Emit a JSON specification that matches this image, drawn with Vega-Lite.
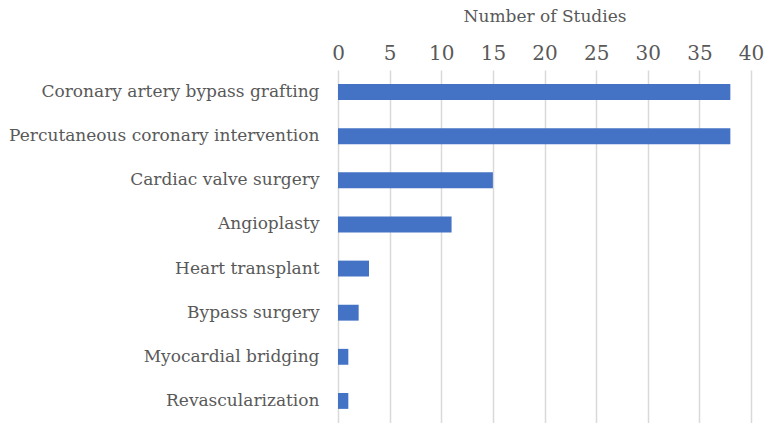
{
  "$schema": "https://vega.github.io/schema/vega-lite/v6.json",
  "width": 413,
  "height": 353,
  "autosize": {"type": "none"},
  "padding": {"left": 338, "top": 70, "right": 14, "bottom": 0},
  "background": "white",
  "config": {
    "view": {"stroke": null},
    "font": "DejaVu Serif",
    "axis": {"labelFont": "DejaVu Serif", "titleFont": "DejaVu Serif", "labelColor": "#595959", "titleColor": "#595959"}
  },
  "data": {
    "values": [
      {"procedure": "Coronary artery bypass grafting", "studies": 38},
      {"procedure": "Percutaneous coronary intervention", "studies": 38},
      {"procedure": "Cardiac valve surgery", "studies": 15},
      {"procedure": "Angioplasty", "studies": 11},
      {"procedure": "Heart transplant", "studies": 3},
      {"procedure": "Bypass surgery", "studies": 2},
      {"procedure": "Myocardial bridging", "studies": 1},
      {"procedure": "Revascularization", "studies": 1}
    ]
  },
  "mark": {"type": "bar", "color": "#4472C4"},
  "encoding": {
    "y": {
      "field": "procedure",
      "type": "nominal",
      "sort": null,
      "scale": {"paddingInner": 0.64, "paddingOuter": 0.32},
      "axis": {"title": null, "ticks": false, "domain": false, "grid": false, "labelFontSize": 17, "labelPadding": 19, "labelLimit": 400}
    },
    "x": {
      "field": "studies",
      "type": "quantitative",
      "scale": {"domain": [0, 40], "nice": false},
      "axis": {
        "orient": "top",
        "title": "Number of Studies",
        "titleFontSize": 17,
        "titleFontWeight": "normal",
        "titlePadding": 18,
        "values": [0, 5, 10, 15, 20, 25, 30, 35, 40],
        "labelFontSize": 20,
        "labelPadding": 7,
        "ticks": false,
        "domain": false,
        "grid": true,
        "gridColor": "#d9d9d9",
        "gridWidth": 1.5,
        "labelFlush": false
      }
    }
  }
}
